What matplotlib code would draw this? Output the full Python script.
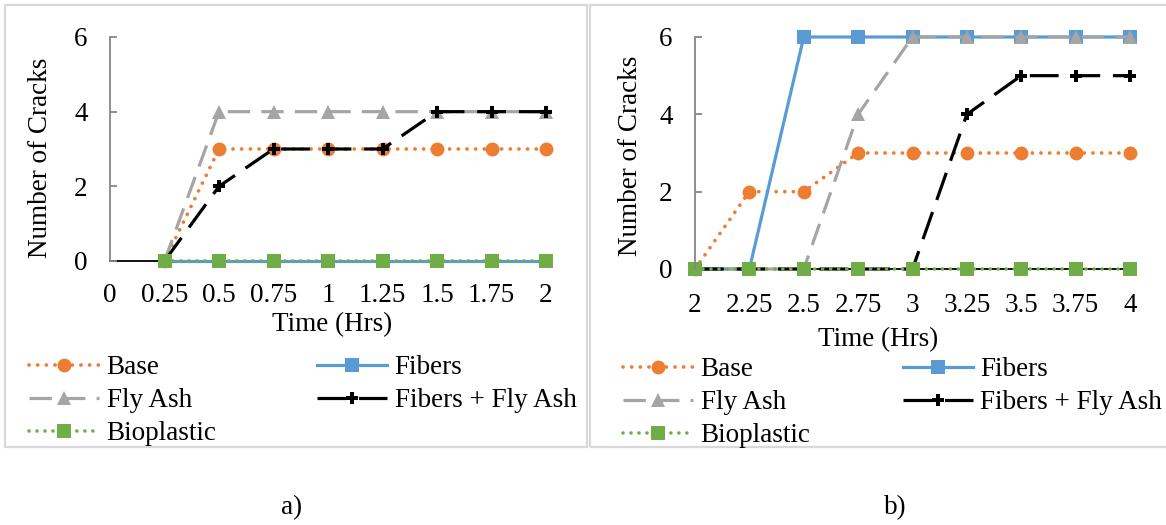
import numpy as np
import matplotlib
matplotlib.use("Agg")
import matplotlib.pyplot as plt
from matplotlib.patches import Rectangle

plt.rcParams['font.family'] = ['Liberation Serif', 'DejaVu Serif']

# ---------------- data ----------------
time_a = [0, 0.25, 0.5, 0.75, 1, 1.25, 1.5, 1.75, 2]
time_a_labels = ["0", "0.25", "0.5", "0.75", "1", "1.25", "1.5", "1.75", "2"]
base_a = [np.nan, 0, 3, 3, 3, 3, 3, 3, 3]
fibers_a = [np.nan, 0, 0, 0, 0, 0, 0, 0, 0]
flyash_a = [np.nan, 0, 4, 4, 4, 4, 4, 4, 4]
fibfly_a = [np.nan, 0, 2, 3, 3, 3, 4, 4, 4]
bioplastic_a = [np.nan, 0, 0, 0, 0, 0, 0, 0, 0]

time_b = [2, 2.25, 2.5, 2.75, 3, 3.25, 3.5, 3.75, 4]
time_b_labels = ["2", "2.25", "2.5", "2.75", "3", "3.25", "3.5", "3.75", "4"]
base_b = [0, 2, 2, 3, 3, 3, 3, 3, 3]
fibers_b = [0, 0, 6, 6, 6, 6, 6, 6, 6]
flyash_b = [0, 0, 0, 4, 6, 6, 6, 6, 6]
fibfly_b = [0, 0, 0, 0, 0, 4, 5, 5, 5]
bioplastic_b = [0, 0, 0, 0, 0, 0, 0, 0, 0]

series_names = ["Base", "Fibers", "Fly Ash", "Fibers + Fly Ash", "Bioplastic"]
yticks = [0, 2, 4, 6]

# ---------------- styles ----------------
styles = {
    "Base": dict(color="#ED7D31", linestyle=(0, (0.01, 2.3)), dash_capstyle="round",
                 lw=2.7, marker="o", markersize=10, markeredgewidth=0),
    "Fibers": dict(color="#5B9BD5", linestyle="-", lw=2.3, marker="s", markersize=10.5,
                   markeredgewidth=0),
    "Fly Ash": dict(color="#A5A5A5", linestyle=(0, (7, 3.5)), dash_capstyle="butt",
                    lw=2.3, marker="^", markersize=10, markeredgewidth=0),
    "Fibers + Fly Ash": dict(color="#000000", linestyle=(0, (9, 4)), dash_capstyle="butt",
                             lw=2.3, marker="P", markersize=8, markeredgewidth=0),
    "Bioplastic": dict(color="#70AD47", linestyle=(0, (0.01, 2.2)), dash_capstyle="round",
                       lw=2.6, marker="s", markersize=10.5, markeredgewidth=0),
}

FS = 19.5
W, H = 1166, 525
fig = plt.figure(figsize=(W / 100, H / 100), dpi=100)

# panel frames
fig.add_artist(Rectangle((5 / W, 1 - 447 / H), (587 - 5) / W, (447 - 5) / H,
                         transform=fig.transFigure, fill=False, ec="#D9D9D9", lw=1.6))
fig.add_artist(Rectangle((590 / W, 1 - 447 / H), (1175 - 590) / W, (447 - 5) / H,
                         transform=fig.transFigure, fill=False, ec="#D9D9D9", lw=1.6))


def make_panel(rect, x, xlabels, data, ylab_xy, xlab_xy, xpad, leg_anchor, colspace):
    ax = fig.add_axes(rect)
    handles = {}
    for name, y in zip(series_names, data):
        st = styles[name]
        (ln,) = ax.plot(x, y, clip_on=False, label=name, **st)
        handles[name] = ln
    ax.set_xlim(x[0], x[-1])
    ax.set_ylim(0, 6)
    ax.set_xticks(x)
    ax.set_xticklabels(xlabels)
    ax.set_yticks(yticks)
    for s in ["top", "right"]:
        ax.spines[s].set_visible(False)
    ax.spines["left"].set_color("#868686")
    ax.spines["left"].set_linewidth(1.3)
    ax.spines["bottom"].set_color("#000000")
    ax.spines["bottom"].set_linewidth(1.3)
    ax.spines["bottom"].set_zorder(1.5)
    ax.tick_params(axis="x", length=0, pad=xpad, labelsize=FS)
    ax.tick_params(axis="y", direction="in", length=5, width=1.3, color="#868686",
                   pad=16, labelsize=FS)
    ax.set_ylabel("Number of Cracks", fontsize=FS)
    ax.yaxis.set_label_coords(*ylab_xy)
    ax.set_xlabel("Time (Hrs)", fontsize=FS)
    ax.xaxis.set_label_coords(*xlab_xy)
    order = ["Base", "Fly Ash", "Bioplastic", "Fibers", "Fibers + Fly Ash"]
    fig.legend([handles[n] for n in order], order, loc="upper left",
               bbox_to_anchor=leg_anchor, bbox_transform=fig.transFigure,
               ncol=2, frameon=False, fontsize=FS, handlelength=2.6,
               handletextpad=0.27, columnspacing=colspace, labelspacing=0.3,
               borderpad=0, borderaxespad=0, numpoints=1)
    return ax


axA = make_panel([110 / W, 1 - 261 / H, 436 / W, 224 / H], time_a, time_a_labels,
                 [base_a, fibers_a, flyash_a, fibfly_a, bioplastic_a],
                 (-0.13, 0.46), (0.51, -0.23), 16,
                 (29 / W, 1 - 355 / H), 3.7)
axB = make_panel([695 / W, 1 - 269 / H, 435 / W, 232 / H], time_b, time_b_labels,
                 [base_b, fibers_b, flyash_b, fibfly_b, bioplastic_b],
                 (-0.12, 0.49), (0.42, -0.25), 17,
                 (623 / W, 1 - 357 / H), 3.4)

fig.text(292 / W, 1 - 508 / H, "a)", ha="center", va="center", fontsize=FS)
fig.text(895 / W, 1 - 508 / H, "b)", ha="center", va="center", fontsize=FS)

fig.savefig("out.png", dpi=100)
